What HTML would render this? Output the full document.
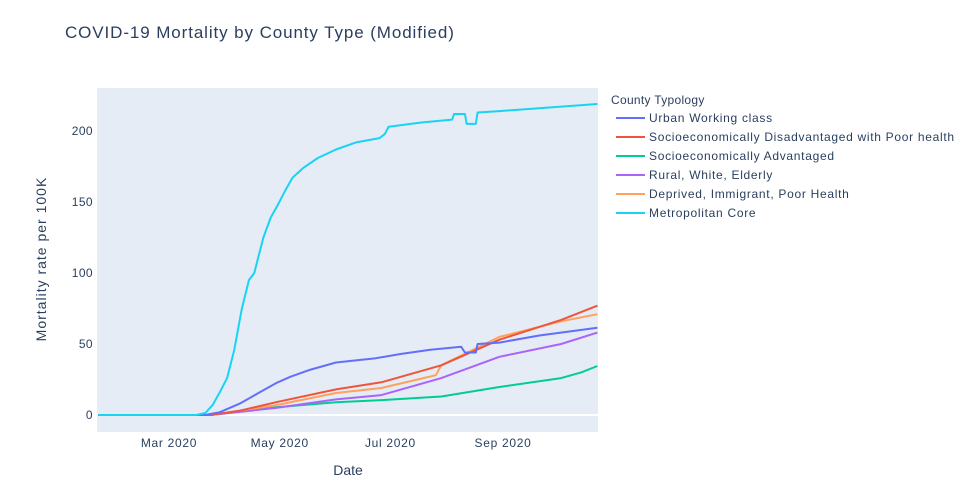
<!DOCTYPE html>
<html><head><meta charset="utf-8"><style>
body{margin:0;background:#fff;}
svg{font-family:"Liberation Sans",Arial,sans-serif;}
</style></head><body>
<svg id="chart" width="962" height="493">
<rect x="0" y="0" width="962" height="493" fill="#fff"/>
<rect x="97" y="88" width="501" height="344" fill="#e5ecf6"/>
<text x="65" y="38" font-size="17" fill="#2a3f5f" letter-spacing="0.9">COVID-19 Mortality by County Type (Modified)</text>
<g id="yticks"></g><g id="xticks"></g>
<g id="zero"></g>
<g id="series"></g>
<text x="348" y="475" font-size="14" fill="#2a3f5f" text-anchor="middle">Date</text>
<text x="46" y="259" font-size="14" fill="#2a3f5f" text-anchor="middle" letter-spacing="1" transform="rotate(-90 46 259)">Mortality rate per 100K</text>
<text x="611" y="104" font-size="12" fill="#2a3f5f" letter-spacing="0.3">County Typology</text>
<g id="legend"></g>
</svg>
<script>
const seriesNames=["Urban Working class","Socioeconomically Disadvantaged with Poor health","Socioeconomically Advantaged","Rural, White, Elderly","Deprived, Immigrant, Poor Health","Metropolitan Core"];
const seriesColors=["#636efa","#ef553b","#00cc96","#ab63fa","#ffa15a","#19d3f3"];
const urbanDates=["2020-01-22","2020-03-21","2020-03-29","2020-04-09","2020-04-20","2020-04-29","2020-05-07","2020-05-18","2020-06-01","2020-06-23","2020-07-07","2020-07-23","2020-08-09","2020-08-11","2020-08-17","2020-08-18","2020-08-30","2020-09-21","2020-10-23"];
const urbanValues=[0,0,2,8,16,22.5,27,32,37,40,43,46,48,44,44,50,51,56,61.5];
const disadvDates=["2020-01-22","2020-03-24","2020-04-09","2020-04-29","2020-06-01","2020-06-26","2020-07-29","2020-08-30","2020-10-03","2020-10-23"];
const disadvValues=[0,0,3,9,18,23,35,53,67,77];
const advDates=["2020-01-22","2020-03-24","2020-04-29","2020-06-01","2020-06-26","2020-07-29","2020-08-30","2020-10-03","2020-10-14","2020-10-23"];
const advValues=[0,0,5.5,9,10.5,13,19.7,26,30,34.5];
const ruralDates=["2020-01-22","2020-03-24","2020-04-29","2020-06-01","2020-06-26","2020-07-29","2020-08-30","2020-10-03","2020-10-23"];
const ruralValues=[0,0,5,11,14,26,41,50,58];
const deprivedDates=["2020-01-22","2020-03-24","2020-04-29","2020-06-01","2020-06-26","2020-07-26","2020-07-29","2020-08-30","2020-10-03","2020-10-23"];
const deprivedValues=[0,0,7,15.5,19,28,35,55,66,71];
const metroDates=["2020-01-22","2020-03-16","2020-03-21","2020-03-25","2020-03-29","2020-04-02","2020-04-06","2020-04-10","2020-04-14","2020-04-17","2020-04-19","2020-04-22","2020-04-26","2020-04-30","2020-05-04","2020-05-08","2020-05-14","2020-05-22","2020-06-01","2020-06-12","2020-06-25","2020-06-28","2020-06-30","2020-07-18","2020-08-04","2020-08-05","2020-08-11","2020-08-12","2020-08-17","2020-08-18","2020-08-30","2020-10-23"];
const metroValues=[0,0,1.4,7,16,26,46,74,95,100,110,125,139,148,158,167,174,181,187,192,195,198,203,206,208,212,212,205,205,213,214,219];
const yTicks=[0,50,100,150,200];
const xTickLabels=["Mar 2020","May 2020","Jul 2020","Sep 2020"];
const xTickDates=["2020-03-01","2020-05-01","2020-07-01","2020-09-01"];

const NS="http://www.w3.org/2000/svg";
const MAR1=Date.UTC(2020,2,1);
function xs(d){const p=d.split("-");const t=Date.UTC(+p[0],+p[1]-1,+p[2]);return 169+(t-MAR1)/86400000*1.8152;}
function ys(v){return 415-v*1.42;}
function mk(tag,attrs,parent){const e=document.createElementNS(NS,tag);for(const k in attrs)e.setAttribute(k,attrs[k]);parent.appendChild(e);return e;}

const yt=document.getElementById("yticks");
yTicks.forEach(v=>{const t=mk("text",{x:93,y:ys(v)+4,"font-size":12,fill:"#2a3f5f","text-anchor":"end","letter-spacing":0.4},yt);t.textContent=v;

});
const xt=document.getElementById("xticks");
xTickDates.forEach((d,i)=>{const t=mk("text",{x:xs(d),y:447,"font-size":12,fill:"#2a3f5f","text-anchor":"middle","letter-spacing":0.7},xt);t.textContent=xTickLabels[i];

});
const z=mk("line",{x1:97,x2:598,y1:ys(0),y2:ys(0),stroke:"#fff","stroke-width":2},document.getElementById("zero"));



const allDates=[urbanDates,disadvDates,advDates,ruralDates,deprivedDates,metroDates];
const allVals=[urbanValues,disadvValues,advValues,ruralValues,deprivedValues,metroValues];
const sg=document.getElementById("series");
const order=[2,3,4,1,0,5];
order.forEach(i=>{const pts=allDates[i].map((d,j)=>xs(d).toFixed(1)+","+ys(allVals[i][j]).toFixed(1)).join(" ");
const pl=mk("polyline",{points:pts,fill:"none",stroke:seriesColors[i],"stroke-width":2,"stroke-linejoin":"round"},sg);

});

const lg=document.getElementById("legend");
seriesNames.forEach((n,i)=>{const y=118+i*19;
const l=mk("line",{x1:616,x2:645,y1:y,y2:y,stroke:seriesColors[i],"stroke-width":2},lg);


const t=mk("text",{x:649,y:y+4,"font-size":12,fill:"#2a3f5f","letter-spacing":0.7},lg);t.textContent=n;

});
</script>
</body></html>
